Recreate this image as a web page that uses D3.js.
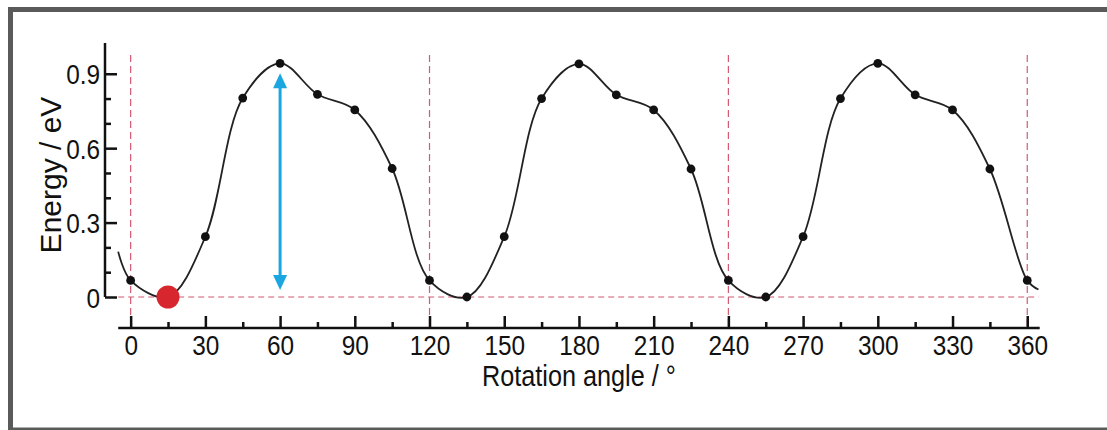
<!DOCTYPE html>
<html>
<head>
<meta charset="utf-8">
<script src="https://cdn.jsdelivr.net/npm/d3@7"></script>
<style>
  html, body { margin: 0; padding: 0; background: #fff; }
  svg { display: block; }
  text { font-family: "Liberation Sans", Arial, Helvetica, sans-serif; fill: #111; }
</style>
</head>
<body>
<svg id="chart" width="1107" height="430"></svg>
<script>
// ---- data ----
const angles = [0, 15, 30, 45, 60, 75, 90, 105, 120, 135, 150, 165, 180, 195, 210, 225, 240, 255, 270, 285, 300, 315, 330, 345, 360];
const energies = [0.067, 0.0, 0.243, 0.802, 0.942, 0.817, 0.754, 0.518, 0.067, 0.0, 0.243, 0.800, 0.940, 0.815, 0.754, 0.516, 0.067, 0.0, 0.243, 0.800, 0.942, 0.815, 0.754, 0.516, 0.067];
const tailAngles = [-5, 364.5];
const tailEnergies = [0.183, 0.03];
const xTickLabels = [0, 30, 60, 90, 120, 150, 180, 210, 240, 270, 300, 330, 360];
const xMinorTicks = [15, 45, 75, 105, 135, 165, 195, 225, 255, 285, 315, 345];
const yTickLabels = [0, 0.3, 0.6, 0.9];
const yMinorTicks = [0.1, 0.2, 0.4, 0.5, 0.7, 0.8];
const boundaryAngles = [0, 120, 240, 360];
const minimumAngle = [15];
const minimumEnergy = [0];
const arrowAngle = [60];
const arrowEnergies = [0.028, 0.902];
const xTitle = "Rotation angle / °";
const yTitle = "Energy / eV";

// ---- scales ----
const svg = d3.select("#chart");
const x = d3.scaleLinear().domain([-5, 365]).range([118.2, 1039.7]);
const y = d3.scaleLinear().domain([0, 1.024]).range([297, 43]);
const xAxisY = 328;
const SX = 0.87;

// frame
svg.append("rect").attr("x", 10.5).attr("y", 9.5).attr("width", 1200).attr("height", 420.5)
  .attr("fill", "none").attr("stroke", "#5a5a5a").attr("stroke-width", 5);

// dashed reference lines
svg.append("line")
  .attr("x1", x(-5)).attr("x2", x(364.5)).attr("y1", y(0)).attr("y2", y(0))
  .attr("stroke", "#d25a72").attr("stroke-width", 1.2).attr("stroke-dasharray", "6,4");
svg.selectAll(".vdash").data(boundaryAngles).join("line").attr("class", "vdash")
  .attr("x1", d => x(d)).attr("x2", d => x(d)).attr("y1", y(0.976)).attr("y2", xAxisY)
  .attr("stroke", "#d25a72").attr("stroke-width", 1.2).attr("stroke-dasharray", "7,4");

// x axis
const gx = svg.append("g").attr("transform", `translate(0,${xAxisY})`);
gx.append("line").attr("x1", x(-5)).attr("x2", x(365)).attr("stroke", "#111").attr("stroke-width", 2.5);
gx.call(d3.axisBottom(x).tickValues(xTickLabels).tickSize(-12).tickFormat(d3.format("d")))
  .call(g => g.select(".domain").remove())
  .call(g => g.selectAll(".tick line").attr("stroke", "#111").attr("stroke-width", 2.5))
  .call(g => g.selectAll(".tick text").attr("y", 27).attr("dy", null)
     .attr("transform", `scale(${SX},1)`).attr("font-size", 28).attr("fill", "#111"));
gx.append("g").call(d3.axisBottom(x).tickValues(xMinorTicks).tickSize(-6).tickFormat(""))
  .call(g => g.select(".domain").remove())
  .call(g => g.selectAll(".tick line").attr("stroke", "#111").attr("stroke-width", 2.5));

// y axis
const gy = svg.append("g").attr("transform", "translate(105,0)");
gy.append("line").attr("y1", y(1.024)).attr("y2", y(0)).attr("stroke", "#111").attr("stroke-width", 2.5);
gy.call(d3.axisLeft(y).tickValues(yTickLabels).tickSize(-12).tickFormat(d => d === 0 ? "0" : d3.format(".1f")(d)))
  .call(g => g.select(".domain").remove())
  .call(g => g.selectAll(".tick line").attr("stroke", "#111").attr("stroke-width", 2.5))
  .call(g => g.selectAll(".tick text").attr("x", -5 / SX).attr("dy", "0.36em")
     .attr("transform", `scale(${SX},1)`).attr("font-size", 28).attr("fill", "#111"));
gy.append("g").call(d3.axisLeft(y).tickValues(yMinorTicks).tickSize(-6).tickFormat(""))
  .call(g => g.select(".domain").remove())
  .call(g => g.selectAll(".tick line").attr("stroke", "#111").attr("stroke-width", 2.5));

// titles
svg.append("text").attr("transform", `translate(${x(180)},386) scale(${SX},1)`)
  .attr("text-anchor", "middle").attr("font-size", 29).text(xTitle);
svg.append("text").attr("transform", "translate(61,175) rotate(-90)")
  .attr("text-anchor", "middle").attr("font-size", 30).text(yTitle);

// curve
const curvePts = [[tailAngles[0], tailEnergies[0]]]
  .concat(angles.map((a, i) => [a, energies[i]]))
  .concat([[tailAngles[1], tailEnergies[1]]]);
const line = d3.line().x(d => x(d[0])).y(d => y(d[1])).curve(d3.curveCatmullRom.alpha(0.5));
svg.append("path").datum(curvePts).attr("d", line)
  .attr("fill", "none").attr("stroke", "#222").attr("stroke-width", 1.8);

// markers
svg.selectAll(".pt").data(angles.map((a, i) => [a, energies[i]])).join("circle").attr("class", "pt")
  .attr("cx", d => x(d[0])).attr("cy", d => y(d[1])).attr("r", 4.4).attr("fill", "#111");

// minimum highlight
svg.selectAll(".minpt").data(minimumAngle.map((a, i) => [a, minimumEnergy[i]])).join("circle").attr("class", "minpt")
  .attr("cx", d => x(d[0])).attr("cy", d => y(d[1])).attr("r", 11.5).attr("fill", "#d7262e");

// double arrow
const ax = x(arrowAngle[0]);
const yTop = y(arrowEnergies[1]), yBot = y(arrowEnergies[0]);
const headH = 15, headW = 7;
svg.append("line").attr("x1", ax).attr("x2", ax).attr("y1", yTop + headH - 1).attr("y2", yBot - headH + 1)
  .attr("stroke", "#1aa6e0").attr("stroke-width", 3);
svg.append("path").attr("d", `M${ax},${yTop} L${ax - headW},${yTop + headH} L${ax + headW},${yTop + headH} Z`).attr("fill", "#1aa6e0");
svg.append("path").attr("d", `M${ax},${yBot} L${ax - headW},${yBot - headH} L${ax + headW},${yBot - headH} Z`).attr("fill", "#1aa6e0");
</script>
</body>
</html>
